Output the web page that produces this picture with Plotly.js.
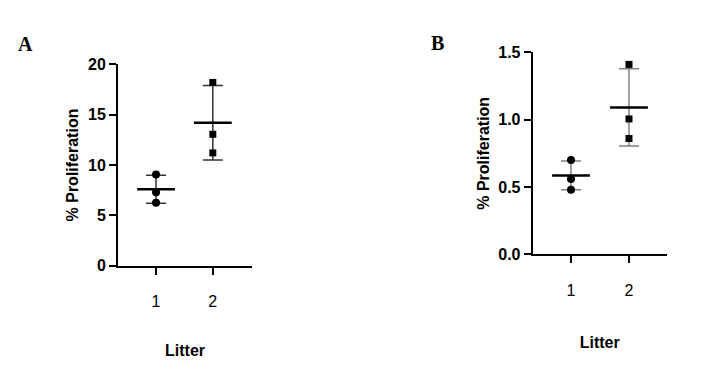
<!DOCTYPE html>
<html>
<head>
<meta charset="utf-8">
<script src="https://cdn.plot.ly/plotly-3.0.1.min.js"></script>
<style>html,body{margin:0;padding:0;background:#fff;}#chart{width:726px;height:389px;}</style>
</head>
<body>
<div id="chart"></div>
<script>
// Data
const litters = [1, 2];
const litterLabels = ['1', '2'];
// Panel A
const aLitter1 = [9.05, 7.3, 6.25];
const aLitter2 = [18.2, 13.05, 11.2];
const aMeans = [7.6, 14.2];
const aSD = [1.39, 3.7];
const aTicks = [0, 5, 10, 15, 20];
// Panel B
const bLitter1 = [0.70, 0.56, 0.48];
const bLitter2 = [1.41, 1.005, 0.86];
const bMeans = [0.586, 1.091];
const bSD = [0.106, 0.286];
const bTicks = [0, 0.5, 1.0, 1.5];

const FONT = 'Liberation Sans, Arial, sans-serif';

function points(xv, yv, sym, size, xa, ya) {
  return {x: yv.map(() => xv), y: yv, type: 'scatter', mode: 'markers', xaxis: xa, yaxis: ya,
    cliponaxis: false, hoverinfo: 'y', showlegend: false,
    marker: {symbol: sym, size: size, color: '#000'}};
}
function meanSD(means, sd, barColor, xa, ya) {
  return {x: litters, y: means, type: 'scatter', mode: 'markers', xaxis: xa, yaxis: ya,
    cliponaxis: false, showlegend: false, hoverinfo: 'y',
    marker: {symbol: 'line-ew', size: 27, color: '#000', line: {color: '#000', width: 2.5}},
    error_y: {type: 'data', array: sd, visible: true, color: barColor, thickness: 1.5, width: 10}};
}

const traces = [
  meanSD(aMeans, aSD, '#333', 'x', 'y'),
  points(litters[0], aLitter1, 'circle', 8, 'x', 'y'),
  points(litters[1], aLitter2, 'square', 7, 'x', 'y'),
  meanSD(bMeans, bSD, '#808080', 'x2', 'y2'),
  points(litters[0], bLitter1, 'circle', 8, 'x2', 'y2'),
  points(litters[1], bLitter2, 'square', 7, 'x2', 'y2')
];

const W = 726, H = 389;
const axisCommon = {
  showgrid: false, zeroline: false, showline: true, linewidth: 2, linecolor: '#000',
  ticks: 'outside', ticklen: 7, tickwidth: 2, tickcolor: '#000', fixedrange: true
};
function xAxis(domain, range, anchor, titleStandoff) {
  return Object.assign({}, axisCommon, {
    domain: domain, range: range, anchor: anchor, tickmode: 'array',
    tickvals: litters, ticktext: litterLabels, ticklabelstandoff: 13,
    tickfont: {family: FONT, size: 16, color: '#000'},
    title: {text: '<b>Litter</b>', font: {family: FONT, size: 16, color: '#000'}, standoff: titleStandoff}
  });
}
function yAxis(domain, range, ticks, fmt, anchor) {
  return Object.assign({}, axisCommon, {
    domain: domain, range: range, anchor: anchor, tickmode: 'array',
    tickvals: ticks, ticktext: ticks.map(v => '<b>' + (fmt ? v.toFixed(1) : String(v)) + '</b>'),
    tickfont: {family: FONT, size: 16, color: '#000'},
    title: {text: '<b>% Proliferation</b>', font: {family: FONT, size: 16, color: '#000'}, standoff: 5}
  });
}

const layout = {
  width: W, height: H, margin: {l: 0, r: 0, t: 0, b: 0},
  paper_bgcolor: '#fff', plot_bgcolor: '#fff', showlegend: false,
  xaxis: xAxis([118 / W, 252 / W], [0.33, 2.69], 'y', 36),
  yaxis: yAxis([(H - 265.7) / H, (H - 64.3) / H], [0, 20], aTicks, false, 'x'),
  xaxis2: xAxis([532.7 / W, 666.7 / W], [0.34, 2.65], 'y2', 39),
  yaxis2: yAxis([(H - 254.3) / H, (H - 52.3) / H], [0, 1.5], bTicks, true, 'x2'),
  annotations: [
    {text: '<b>A</b>', x: 25 / W, y: 1 - 44 / H, xref: 'paper', yref: 'paper', showarrow: false,
     xanchor: 'center', yanchor: 'middle', font: {family: 'Liberation Serif, Times New Roman, serif', size: 20, color: '#000'}},
    {text: '<b>B</b>', x: 437 / W, y: 1 - 43 / H, xref: 'paper', yref: 'paper', showarrow: false,
     xanchor: 'center', yanchor: 'middle', font: {family: 'Liberation Serif, Times New Roman, serif', size: 20, color: '#000'}}
  ]
};

Plotly.newPlot('chart', traces, layout, {displayModeBar: false, staticPlot: true});
</script>
</body>
</html>
